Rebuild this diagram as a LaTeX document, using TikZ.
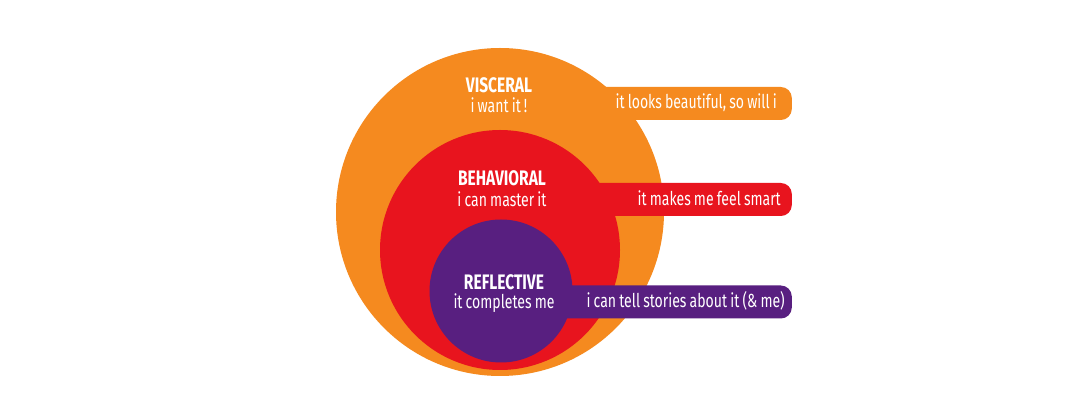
\documentclass[tikz,border=0pt]{standalone}
\usepackage{fontspec}
\setmainfont{Fira Sans}[FakeStretch=0.74, WordSpace=0.85]
\definecolor{cOrange}{HTML}{F58A1F}
\definecolor{cRed}{HTML}{E8141E}
\definecolor{cPurple}{HTML}{581F80}
\tikzset{
  disc/.style={circle, inner sep=0pt, draw=none},
  bar/.style={rounded corners=11pt, inner sep=0pt, minimum height=33pt, minimum width=292pt, anchor=east},
  bartext/.style={text=white, inner sep=0pt, anchor=east, font=\fontsize{19}{19}\selectfont},
  title/.style={text=white, font=\bfseries\fontsize{21}{21}\selectfont, inner sep=0pt},
  sub/.style={text=white, font=\fontsize{19}{19}\selectfont, inner sep=0pt}
}
\begin{document}
\begin{tikzpicture}[x=1pt,y=-1pt]
\useasboundingbox[fill=white] (0,0) rectangle (1072,419);
\node[disc, fill=cOrange, minimum size=328pt] (outer) at (500,212) {};
\node[bar, fill=cOrange] (vbar) at (792,103.5) {};
\node[disc, fill=cRed, minimum size=240pt] (mid) at (500,250) {};
\node[bar, fill=cRed] (bbar) at (792,199.5) {};
\node[disc, fill=cPurple, minimum size=143pt] (inner) at (501,291) {};
\node[bar, fill=cPurple] (rbar) at (792,302) {};
\node[bartext] (vbt) at ([xshift=-15pt,yshift=1pt]vbar.east) {it looks beautiful, so will i};
\node[bartext] (bbt) at ([xshift=-11pt,yshift=1pt]bbar.east) {it makes me feel smart};
\node[bartext] (rbt) at ([xshift=-7pt,yshift=1pt]rbar.east) {i can tell stories about it (\& me)};
\node[title] (vt) at (499,85) {VISCERAL};
\node[sub] (vs) at (499,105) {i want it !};
\node[title] (bt) at (502,178) {BEHAVIORAL};
\node[sub] (bs) at (502,199) {i can master it};
\node[title] (rt) at (504,282) {REFLECTIVE};
\node[sub] (rs) at (504,303) {it completes me};
\end{tikzpicture}
\end{document}
